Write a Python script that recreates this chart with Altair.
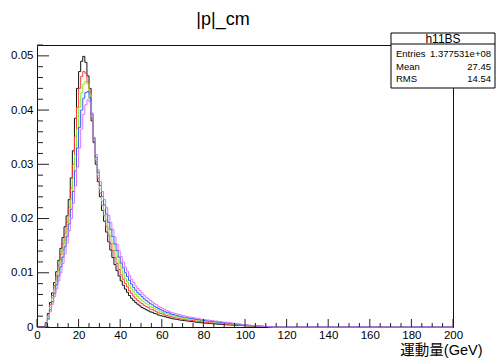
import altair as alt
import pandas as pd

# ---------------- data ----------------
title_text = "|p|_cm"
x_title = "運動量(GeV)"
stat_name = "h11BS"
stat_labels = ["Entries", "Mean", "RMS"]
stat_values = ["1.377531e+08", "27.45", "14.54"]

x_max = 200
first_bin = 4  # first non-empty 1-GeV bin

series_names = ["black", "red", "green", "blue", "magenta"]
series_colors = ["#111111", "#ff3b3b", "#8ee82a", "#2a5cff", "#e070ff"]

black = [
    0.0008, 0.0025, 0.0045, 0.0063, 0.0082, 0.0102, 0.0123, 0.0145, 0.0165, 0.0185,
    0.0205, 0.0235, 0.0275, 0.0325, 0.0385, 0.0440, 0.0471, 0.0490, 0.0499, 0.0488,
    0.0463, 0.0440, 0.0380, 0.0340, 0.0300, 0.0268, 0.0240, 0.0215, 0.0195, 0.0175,
    0.0157, 0.0142, 0.0128, 0.0115, 0.0104, 0.0094, 0.0085, 0.0077, 0.0070, 0.0064,
    0.0058, 0.0053, 0.0049, 0.0045, 0.0042, 0.0039, 0.0036, 0.0034, 0.0032, 0.0030,
    0.0028, 0.0027, 0.0025, 0.0024, 0.0022, 0.0021, 0.0020, 0.0019, 0.0018, 0.0017,
    0.0016, 0.0015, 0.00145, 0.0014, 0.0013, 0.00125, 0.0012, 0.00115, 0.0011, 0.00105,
    0.0010, 0.00095, 0.0009, 0.00085, 0.0008, 0.00077, 0.00073, 0.0007, 0.00066, 0.00063,
    0.0006, 0.00057, 0.00054, 0.00051, 0.00048, 0.00045, 0.00042, 0.0004, 0.00038, 0.00036,
    0.00034, 0.00032, 0.0003, 0.00028, 0.00026, 0.00024, 0.00022, 0.0002, 0.00019, 0.00018,
    0.00016, 0.00015, 0.00014, 0.00012, 0.0001, 0.00009, 0.00007, 0.00005, 0.00003, 0.0,
]
red = [
    0.0007, 0.0022, 0.0041, 0.0058, 0.0076, 0.0094, 0.0114, 0.0134, 0.0153, 0.0172,
    0.0193, 0.0220, 0.0256, 0.0300, 0.0352, 0.0405, 0.0440, 0.0462, 0.0471, 0.0468,
    0.0452, 0.0435, 0.0385, 0.0343, 0.0305, 0.0274, 0.0247, 0.0224, 0.0205, 0.0186,
    0.0169, 0.0154, 0.0141, 0.0128, 0.0117, 0.0106, 0.0096, 0.0088, 0.0080, 0.0074,
    0.0067, 0.0062, 0.0057, 0.0053, 0.0049, 0.0046, 0.0043, 0.0040, 0.0038, 0.0036,
    0.0033, 0.0032, 0.0030, 0.0028, 0.0026, 0.0025, 0.0024, 0.0022, 0.0021, 0.0020,
    0.0019, 0.0018, 0.0017, 0.00165, 0.00155, 0.0015, 0.0014, 0.00135, 0.0013, 0.00125,
    0.0012, 0.00115, 0.0011, 0.00105, 0.001, 0.00095, 0.0009, 0.00085, 0.0008, 0.00077,
    0.00074, 0.0007, 0.00067, 0.00064, 0.0006, 0.00056, 0.00053, 0.0005, 0.00047, 0.00044,
    0.00041, 0.00038, 0.00036, 0.00034, 0.00031, 0.00029, 0.00027, 0.00025, 0.00023, 0.00021,
    0.00019, 0.00017, 0.00016, 0.00014, 0.00012, 0.0001, 0.00008, 0.00006, 0.00004, 0.00001,
]
green = [
    0.0005, 0.0019, 0.0036, 0.0053, 0.0069, 0.0086, 0.0104, 0.0122, 0.0141, 0.0160,
    0.0180, 0.0205, 0.0236, 0.0274, 0.0318, 0.0365, 0.0405, 0.0432, 0.0448, 0.0453,
    0.0448, 0.0430, 0.0388, 0.0345, 0.0309, 0.0280, 0.0254, 0.0232, 0.0215, 0.0197,
    0.0181, 0.0167, 0.0154, 0.0141, 0.0129, 0.0118, 0.0107, 0.0098, 0.0090, 0.0083,
    0.0076, 0.0070, 0.0065, 0.0060, 0.0056, 0.0052, 0.0049, 0.0046, 0.0043, 0.0041,
    0.0038, 0.0036, 0.0034, 0.0032, 0.0030, 0.0028, 0.0027, 0.0025, 0.0024, 0.0023,
    0.0022, 0.0021, 0.0020, 0.0019, 0.0018, 0.0017, 0.0016, 0.00155, 0.0015, 0.00145,
    0.0014, 0.00135, 0.0013, 0.00125, 0.0012, 0.00115, 0.0011, 0.00105, 0.001, 0.00096,
    0.00092, 0.00088, 0.00084, 0.0008, 0.00076, 0.00072, 0.00068, 0.00064, 0.0006, 0.00056,
    0.00052, 0.00048, 0.00045, 0.00042, 0.00039, 0.00036, 0.00033, 0.0003, 0.00027, 0.00024,
    0.00022, 0.0002, 0.00018, 0.00016, 0.00013, 0.00011, 0.00009, 0.00007, 0.00005, 0.00002,
]
blue = [
    0.0004, 0.0016, 0.0032, 0.0047, 0.0062, 0.0078, 0.0094, 0.0111, 0.0129, 0.0148,
    0.0167, 0.0190, 0.0217, 0.0250, 0.0288, 0.0330, 0.0368, 0.0400, 0.0422, 0.0432,
    0.0434, 0.0422, 0.0392, 0.0348, 0.0313, 0.0285, 0.0261, 0.0241, 0.0225, 0.0208,
    0.0193, 0.0180, 0.0167, 0.0153, 0.0141, 0.0129, 0.0118, 0.0109, 0.0100, 0.0093,
    0.0086, 0.0079, 0.0073, 0.0068, 0.0063, 0.0060, 0.0056, 0.0052, 0.0049, 0.0046,
    0.0043, 0.0041, 0.0038, 0.0036, 0.0034, 0.0032, 0.0030, 0.0028, 0.0027, 0.0026,
    0.0024, 0.0023, 0.0022, 0.0021, 0.0020, 0.0019, 0.0018, 0.0018, 0.0017, 0.0016,
    0.0016, 0.0015, 0.0014, 0.0014, 0.0013, 0.0013, 0.0012, 0.00115, 0.0011, 0.00105,
    0.001, 0.00097, 0.00094, 0.0009, 0.00086, 0.00081, 0.00078, 0.00074, 0.0007, 0.00065,
    0.0006, 0.00056, 0.00052, 0.00048, 0.00044, 0.0004, 0.00036, 0.00033, 0.0003, 0.00026,
    0.00023, 0.00021, 0.00018, 0.00016, 0.00013, 0.00011, 0.00009, 0.00007, 0.00005, 0.00002,
]
magenta = [
    0.0003, 0.0014, 0.0028, 0.0042, 0.0056, 0.0070, 0.0085, 0.0100, 0.0117, 0.0135,
    0.0155, 0.0177, 0.0200, 0.0228, 0.0260, 0.0295, 0.0330, 0.0365, 0.0392, 0.0410,
    0.0419, 0.0415, 0.0395, 0.0350, 0.0318, 0.0290, 0.0268, 0.0250, 0.0235, 0.0220,
    0.0206, 0.0193, 0.0180, 0.0166, 0.0153, 0.0141, 0.0130, 0.0120, 0.0111, 0.0103,
    0.0095, 0.0088, 0.0082, 0.0076, 0.0071, 0.0067, 0.0063, 0.0059, 0.0055, 0.0052,
    0.0049, 0.0046, 0.0043, 0.0041, 0.0038, 0.0036, 0.0034, 0.0032, 0.0030, 0.0029,
    0.0027, 0.0026, 0.0025, 0.0024, 0.0023, 0.0022, 0.0021, 0.0020, 0.0019, 0.0018,
    0.0018, 0.0017, 0.0016, 0.0016, 0.0015, 0.0014, 0.0014, 0.0013, 0.0013, 0.0012,
    0.0012, 0.0011, 0.0011, 0.0010, 0.0010, 0.0009, 0.0009, 0.00085, 0.0008, 0.00075,
    0.0007, 0.00065, 0.0006, 0.00055, 0.0005, 0.00045, 0.0004, 0.00036, 0.00032, 0.00028,
    0.00025, 0.00022, 0.00019, 0.00016, 0.00013, 0.0001, 0.00008, 0.00006, 0.00004, 0.00002,
]
series_values = [black, red, green, blue, magenta]

x_label_values = [0, 20, 40, 60, 80, 100, 120, 140, 160, 180, 200]
x_minor_ticks = list(range(0, 201, 5))
y_label_values = [0, 0.01, 0.02, 0.03, 0.04, 0.05]
y_minor_ticks = [round(i * 0.002, 3) for i in range(0, 27)]
y_top = 0.052

# ---------------- layout ----------------
W, H = 416, 282
FONT = "Liberation Sans, Arial, Helvetica, Noto Sans CJK JP, sans-serif"

xs = alt.Scale(domain=[0, x_max], nice=False, zero=False)
ys = alt.Scale(domain=[0, y_top], nice=False, zero=True)

x_axis = alt.Axis(
    values=x_label_values, format="d", ticks=False, domain=False, grid=False,
    labelFont=FONT, labelFontSize=11.5, labelColor="#000", labelPadding=2,
    labelFlush=False, labelOverlap=False,
    title=x_title, titleFont=FONT, titleFontSize=14.5, titleFontWeight="normal",
    titleColor="#000", titleAnchor="end", titleAlign="right", titleX=445, titleY=30,
    titleBaseline="bottom")
y_axis = alt.Axis(
    values=y_label_values, format=".2~f", ticks=False, domain=False, grid=False,
    labelFont=FONT, labelFontSize=11.5, labelColor="#000", labelPadding=4,
    labelFlush=False, labelOverlap=False, title=None)

layers = []

# histograms (step lines)
for name, vals, col in zip(series_names, series_values, series_colors):
    full = [0.0] * first_bin + list(vals)
    full = full + [0.0] * (x_max - len(full)) + [0.0]
    df = pd.DataFrame({"x": list(range(len(full))), "y": full})
    layers.append(
        alt.Chart(df).mark_line(interpolate="step-after", color=col, strokeWidth=1)
        .encode(x=alt.X("x:Q", scale=xs, axis=x_axis, title=x_title),
                y=alt.Y("y:Q", scale=ys, axis=y_axis))
    )

# inward tick marks, ROOT style
xt_minor = pd.DataFrame({"x": [v for v in x_minor_ticks if v not in x_label_values]})
xt_major = pd.DataFrame({"x": x_label_values})
yt_minor = pd.DataFrame({"y": [v for v in y_minor_ticks if round(v * 100, 6) % 1 != 0]})
yt_major = pd.DataFrame({"y": y_label_values})

layers.append(alt.Chart(xt_minor).mark_rule(color="#222", strokeWidth=1).encode(
    x=alt.X("x:Q", scale=xs, axis=x_axis, title=x_title), y=alt.value(H), y2=alt.value(H - 4)))
layers.append(alt.Chart(xt_major).mark_rule(color="#222", strokeWidth=1).encode(
    x=alt.X("x:Q", scale=xs, axis=x_axis, title=x_title), y=alt.value(H), y2=alt.value(H - 8)))
layers.append(alt.Chart(yt_minor).mark_rule(color="#222", strokeWidth=1).encode(
    y=alt.Y("y:Q", scale=ys, axis=y_axis), x=alt.value(0), x2=alt.value(6)))
layers.append(alt.Chart(yt_major).mark_rule(color="#222", strokeWidth=1).encode(
    y=alt.Y("y:Q", scale=ys, axis=y_axis), x=alt.value(0), x2=alt.value(12)))

# title
layers.append(alt.Chart(pd.DataFrame({"t": [title_text]})).mark_text(
    font=FONT, fontSize=18, color="#000", align="center", baseline="middle"
).encode(text="t:N", x=alt.value(186), y=alt.value(-25)))

# statistics box
box = pd.DataFrame({"a": [0]})
layers.append(alt.Chart(box).mark_rect(fill="white", stroke="#000", strokeWidth=1).encode(
    x=alt.value(354), x2=alt.value(458), y=alt.value(-12), y2=alt.value(43)))
layers.append(alt.Chart(box).mark_rule(color="#000", strokeWidth=1).encode(
    x=alt.value(354), x2=alt.value(458), y=alt.value(-1)))
layers.append(alt.Chart(pd.DataFrame({"t": [stat_name]})).mark_text(
    font=FONT, fontSize=12, fill="#000", align="center", baseline="middle"
).encode(text="t:N", x=alt.value(406), y=alt.value(-6.5)))
row_y = [9, 22, 34]
for lab, val, ry in zip(stat_labels, stat_values, row_y):
    d = pd.DataFrame({"label": [lab], "value": [val]})
    layers.append(alt.Chart(d).mark_text(
        font=FONT, fontSize=9.5, fill="#000", align="left", baseline="middle"
    ).encode(text="label:N", x=alt.value(359), y=alt.value(ry)))
    layers.append(alt.Chart(d).mark_text(
        font=FONT, fontSize=9.5, fill="#000", align="right", baseline="middle"
    ).encode(text="value:N", x=alt.value(454), y=alt.value(ry)))

chart = alt.layer(*layers).properties(
    width=W, height=H,
    autosize=alt.AutoSizeParams(type="none"),
    padding={"left": 37, "top": 45, "right": 44, "bottom": 34},
    background="white",
).configure_view(stroke="#111", strokeWidth=1)

chart.save("out.html", embed_options={"renderer": "svg", "actions": False})
